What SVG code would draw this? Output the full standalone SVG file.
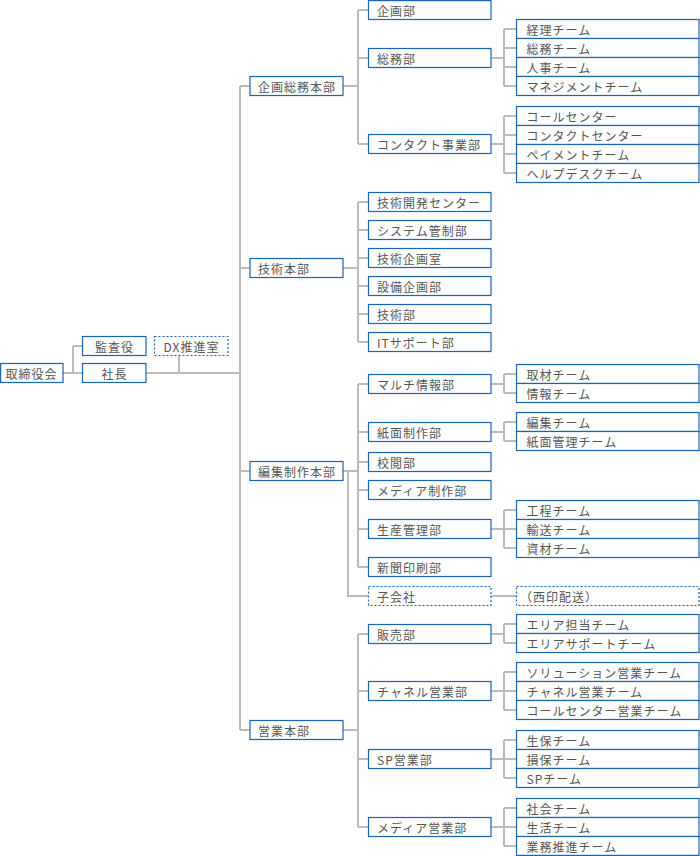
<svg xmlns="http://www.w3.org/2000/svg" width="700" height="856" viewBox="0 0 700 856">
<style>
.b{fill:#fff;stroke:#1a65b0;stroke-width:1.2}
.d{fill:#fff;stroke:#1a65b0;stroke-width:1.2;stroke-dasharray:2 2}
.t{font-family:"Noto Sans CJK JP","Noto Sans",sans-serif;font-size:12px;fill:#555;letter-spacing:1px;dominant-baseline:central}
.c{text-anchor:middle}
.l{fill:none;stroke:#bbb;stroke-width:2}
</style>
<rect width="700" height="856" fill="#fff"/>
<g id="connectors" class="l">
<path d="M63 373H73M73 346V373M73 346H82.5M73 373H82.5M146 373H240M179 355.5V373"/>
<path d="M240 86V730M240 86H250M240 268H250M240 471H250M240 730H250"/>
<path d="M343 86H358M358 10V144M358 10H368.5M358 58H368.5M358 144H368.5"/>
<path d="M491 58H504M504 29V86M504 29H516.5M504 48H516.5M504 67H516.5M504 86H516.5"/>
<path d="M491 144H504M504 116V173M504 116H516.5M504 135H516.5M504 154H516.5M504 173H516.5"/>
<path d="M343 268H358M358 202V342M358 202H368.5M358 230H368.5M358 258H368.5M358 286H368.5M358 314H368.5M358 342H368.5"/>
<path d="M343 471H358M358 384V567M358 384H368.5M358 432H368.5M358 462H368.5M358 490H368.5M358 529H368.5M358 567H368.5"/>
<path d="M348 471V596H368.5M491 596H516.5"/>
<path d="M491 384H504M504 374V393M504 374H516.5M504 393H516.5"/>
<path d="M491 432H504M504 422V441M504 422H516.5M504 441H516.5"/>
<path d="M491 529H504M504 510V548M504 510H516.5M504 529H516.5M504 548H516.5"/>
<path d="M343 730H358M358 634V827M358 634H368.5M358 691H368.5M358 759H368.5M358 827H368.5"/>
<path d="M491 634H504M504 624V643M504 624H516.5M504 643H516.5"/>
<path d="M491 691H504M504 672V710M504 672H516.5M504 691H516.5M504 710H516.5"/>
<path d="M491 759H504M504 740V778M504 740H516.5M504 759H516.5M504 778H516.5"/>
<path d="M491 827H504M504 808V846M504 808H516.5M504 827H516.5M504 846H516.5"/>
</g>
<g id="n-torishimariyakukai"><rect class="b" x="0.6" y="363.5" width="62.4" height="19"/><text class="t c" x="31.5" y="373">取締役会</text></g>
<g id="n-kansayaku"><rect class="b" x="82.5" y="336.5" width="63.5" height="19"/><text class="t c" x="114.5" y="346">監査役</text></g>
<g id="n-shacho"><rect class="b" x="82.5" y="363.5" width="63.5" height="19"/><text class="t c" x="114.5" y="373">社長</text></g>
<g id="n-dx"><rect class="d" x="154.5" y="336.5" width="73.5" height="19"/><text class="t c" x="191.5" y="346">DX推進室</text></g>

<g id="n-kikakusomu-honbu"><rect class="b" x="250" y="76.5" width="93" height="19"/><text class="t" x="258" y="86">企画総務本部</text></g>
<g id="n-kikakubu"><rect class="b" x="368.5" y="0.6" width="122.5" height="18.9"/><text class="t" x="377" y="10">企画部</text></g>
<g id="n-somubu"><rect class="b" x="368.5" y="48.5" width="122.5" height="19"/><text class="t" x="377" y="58">総務部</text></g>
<g id="n-keiri"><rect class="b" x="516.5" y="19.5" width="182.5" height="19"/><text class="t" x="526.5" y="29">経理チーム</text></g>
<g id="n-somu-team"><rect class="b" x="516.5" y="38.5" width="182.5" height="19"/><text class="t" x="526.5" y="48">総務チーム</text></g>
<g id="n-jinji"><rect class="b" x="516.5" y="57.5" width="182.5" height="19"/><text class="t" x="526.5" y="67">人事チーム</text></g>
<g id="n-management"><rect class="b" x="516.5" y="76.5" width="182.5" height="19"/><text class="t" x="526.5" y="86">マネジメントチーム</text></g>
<g id="n-contact-jigyobu"><rect class="b" x="368.5" y="134.5" width="122.5" height="19"/><text class="t" x="377" y="144">コンタクト事業部</text></g>
<g id="n-callcenter"><rect class="b" x="516.5" y="106.5" width="182.5" height="19"/><text class="t" x="526.5" y="116">コールセンター</text></g>
<g id="n-contactcenter"><rect class="b" x="516.5" y="125.5" width="182.5" height="19"/><text class="t" x="526.5" y="135">コンタクトセンター</text></g>
<g id="n-payment"><rect class="b" x="516.5" y="144.5" width="182.5" height="19"/><text class="t" x="526.5" y="154">ペイメントチーム</text></g>
<g id="n-helpdesk"><rect class="b" x="516.5" y="163.5" width="182.5" height="19"/><text class="t" x="526.5" y="173">ヘルプデスクチーム</text></g>

<g id="n-gijutsu-honbu"><rect class="b" x="250" y="258.5" width="93" height="19"/><text class="t" x="258" y="268">技術本部</text></g>
<g id="n-gijutsukaihatsu"><rect class="b" x="368.5" y="192.5" width="122.5" height="19"/><text class="t" x="377" y="202">技術開発センター</text></g>
<g id="n-system"><rect class="b" x="368.5" y="220.5" width="122.5" height="19"/><text class="t" x="377" y="230">システム管制部</text></g>
<g id="n-gijutsukikaku"><rect class="b" x="368.5" y="248.5" width="122.5" height="19"/><text class="t" x="377" y="258">技術企画室</text></g>
<g id="n-setsubi"><rect class="b" x="368.5" y="276.5" width="122.5" height="19"/><text class="t" x="377" y="286">設備企画部</text></g>
<g id="n-gijutsubu"><rect class="b" x="368.5" y="304.5" width="122.5" height="19"/><text class="t" x="377" y="314">技術部</text></g>
<g id="n-itsupport"><rect class="b" x="368.5" y="332.5" width="122.5" height="19"/><text class="t" x="377" y="342">ITサポート部</text></g>

<g id="n-henshu-honbu"><rect class="b" x="250" y="461.5" width="93" height="19"/><text class="t" x="258" y="471">編集制作本部</text></g>
<g id="n-multi"><rect class="b" x="368.5" y="374.5" width="122.5" height="19"/><text class="t" x="377" y="384">マルチ情報部</text></g>
<g id="n-shuzai"><rect class="b" x="516.5" y="364.5" width="182.5" height="19"/><text class="t" x="526.5" y="374">取材チーム</text></g>
<g id="n-joho"><rect class="b" x="516.5" y="383.5" width="182.5" height="19"/><text class="t" x="526.5" y="393">情報チーム</text></g>
<g id="n-shimen-seisaku"><rect class="b" x="368.5" y="422.5" width="122.5" height="19"/><text class="t" x="377" y="432">紙面制作部</text></g>
<g id="n-henshu-team"><rect class="b" x="516.5" y="412.5" width="182.5" height="19"/><text class="t" x="526.5" y="422">編集チーム</text></g>
<g id="n-shimenkanri"><rect class="b" x="516.5" y="431.5" width="182.5" height="19"/><text class="t" x="526.5" y="441">紙面管理チーム</text></g>
<g id="n-koetsu"><rect class="b" x="368.5" y="452.5" width="122.5" height="19"/><text class="t" x="377" y="462">校閲部</text></g>
<g id="n-media-seisaku"><rect class="b" x="368.5" y="480.5" width="122.5" height="19"/><text class="t" x="377" y="490">メディア制作部</text></g>
<g id="n-seisankanri"><rect class="b" x="368.5" y="519.5" width="122.5" height="19"/><text class="t" x="377" y="529">生産管理部</text></g>
<g id="n-kotei"><rect class="b" x="516.5" y="500.5" width="182.5" height="19"/><text class="t" x="526.5" y="510">工程チーム</text></g>
<g id="n-yuso"><rect class="b" x="516.5" y="519.5" width="182.5" height="19"/><text class="t" x="526.5" y="529">輸送チーム</text></g>
<g id="n-shizai"><rect class="b" x="516.5" y="538.5" width="182.5" height="19"/><text class="t" x="526.5" y="548">資材チーム</text></g>
<g id="n-shinbuninsatsu"><rect class="b" x="368.5" y="557.5" width="122.5" height="19"/><text class="t" x="377" y="567">新聞印刷部</text></g>
<g id="n-kogaisha"><rect class="d" x="368.5" y="586.5" width="122.5" height="19"/><text class="t" x="377" y="596">子会社</text></g>
<g id="n-nishiin"><rect class="d" x="516.5" y="586.5" width="182.5" height="19"/><text class="t" x="520" y="596">（西印配送）</text></g>

<g id="n-eigyo-honbu"><rect class="b" x="250" y="720.5" width="93" height="19"/><text class="t" x="258" y="730">営業本部</text></g>
<g id="n-hanbai"><rect class="b" x="368.5" y="624.5" width="122.5" height="19"/><text class="t" x="377" y="634">販売部</text></g>
<g id="n-area-tanto"><rect class="b" x="516.5" y="614.5" width="182.5" height="19"/><text class="t" x="526.5" y="624">エリア担当チーム</text></g>
<g id="n-area-support"><rect class="b" x="516.5" y="633.5" width="182.5" height="19"/><text class="t" x="526.5" y="643">エリアサポートチーム</text></g>
<g id="n-channel-eigyo"><rect class="b" x="368.5" y="681.5" width="122.5" height="19"/><text class="t" x="377" y="691">チャネル営業部</text></g>
<g id="n-solution"><rect class="b" x="516.5" y="662.5" width="182.5" height="19"/><text class="t" x="526.5" y="672">ソリューション営業チーム</text></g>
<g id="n-channel-team"><rect class="b" x="516.5" y="681.5" width="182.5" height="19"/><text class="t" x="526.5" y="691">チャネル営業チーム</text></g>
<g id="n-callcenter-eigyo"><rect class="b" x="516.5" y="700.5" width="182.5" height="19"/><text class="t" x="526.5" y="710">コールセンター営業チーム</text></g>
<g id="n-sp-eigyo"><rect class="b" x="368.5" y="749.5" width="122.5" height="19"/><text class="t" x="377" y="759">SP営業部</text></g>
<g id="n-seiho"><rect class="b" x="516.5" y="730.5" width="182.5" height="19"/><text class="t" x="526.5" y="740">生保チーム</text></g>
<g id="n-sonpo"><rect class="b" x="516.5" y="749.5" width="182.5" height="19"/><text class="t" x="526.5" y="759">損保チーム</text></g>
<g id="n-sp-team"><rect class="b" x="516.5" y="768.5" width="182.5" height="19"/><text class="t" x="526.5" y="778">SPチーム</text></g>
<g id="n-media-eigyo"><rect class="b" x="368.5" y="817.5" width="122.5" height="19"/><text class="t" x="377" y="827">メディア営業部</text></g>
<g id="n-shakai"><rect class="b" x="516.5" y="798.5" width="182.5" height="19"/><text class="t" x="526.5" y="808">社会チーム</text></g>
<g id="n-seikatsu"><rect class="b" x="516.5" y="817.5" width="182.5" height="19"/><text class="t" x="526.5" y="827">生活チーム</text></g>
<g id="n-gyomusuishin"><rect class="b" x="516.5" y="836.5" width="182.5" height="18.9"/><text class="t" x="526.5" y="846">業務推進チーム</text></g>
</svg>
